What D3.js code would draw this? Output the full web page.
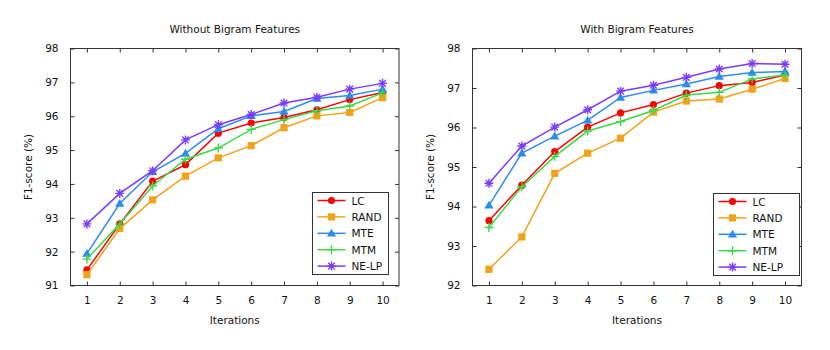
<!DOCTYPE html>
<html><head><meta charset="utf-8">
<script src="https://cdn.jsdelivr.net/npm/d3@7"></script>
<style>body{margin:0;background:#fff}svg{display:block}</style>
</head><body>
<svg id="c" width="830" height="350"></svg>
<script>
const iterations = [1,2,3,4,5,6,7,8,9,10];
const seriesNames = ["LC","RAND","MTE","MTM","NE-LP"];
const seriesColors = ["#ff0000","#f0a31a","#2b8cf0","#3cd84a","#7a3cf8"];
const seriesMarkers = ["circle","square","triangle","plus","star"];

// Without Bigram Features
const noBigramLC   = [91.46,92.82,94.08,94.57,95.50,95.80,95.96,96.19,96.49,96.70];
const noBigramRAND = [91.32,92.68,93.53,94.23,94.77,95.13,95.66,96.01,96.11,96.55];
const noBigramMTE  = [91.94,93.42,94.36,94.90,95.63,96.01,96.14,96.52,96.61,96.80];
const noBigramMTM  = [91.78,92.82,93.94,94.73,95.06,95.61,95.90,96.16,96.30,96.69];
const noBigramNELP = [92.82,93.72,94.39,95.30,95.75,96.05,96.39,96.56,96.80,96.97];

// With Bigram Features
const bigramLC   = [93.64,94.54,95.39,96.01,96.37,96.58,96.87,97.06,97.14,97.33];
const bigramRAND = [92.41,93.23,94.84,95.35,95.73,96.39,96.67,96.72,96.97,97.24];
const bigramMTE  = [94.03,95.35,95.78,96.18,96.76,96.94,97.10,97.29,97.39,97.42];
const bigramMTM  = [93.47,94.50,95.27,95.91,96.15,96.43,96.82,96.89,97.23,97.33];
const bigramNELP = [94.59,95.53,96.01,96.45,96.92,97.07,97.27,97.48,97.62,97.60];

const leftTicks = [91,92,93,94,95,96,97,98];
const rightTicks = [92,93,94,95,96,97,98];

const svg = d3.select("#c");
const FONT = "DejaVu Sans, Verdana, sans-serif";

function marker(g, type, color, x, y) {
  if (type === "circle") {
    g.append("circle").attr("cx", x).attr("cy", y).attr("r", 3.6).attr("fill", color);
  } else if (type === "square") {
    g.append("rect").attr("x", x-3.6).attr("y", y-3.6).attr("width", 7.2).attr("height", 7.2).attr("fill", color);
  } else if (type === "triangle") {
    g.append("path").attr("d", `M${x},${y-4.6}L${x+4.6},${y+3.2}L${x-4.6},${y+3.2}Z`).attr("fill", color);
  } else if (type === "plus") {
    g.append("path").attr("d", `M${x-4.5},${y}H${x+4.5}M${x},${y-4.5}V${y+4.5}`).attr("stroke", color).attr("stroke-width", 1.4);
  } else if (type === "star") {
    g.append("path").attr("d", `M${x-4.5},${y}H${x+4.5}M${x},${y-4.5}V${y+4.5}M${x-3.3},${y-3.3}L${x+3.3},${y+3.3}M${x-3.3},${y+3.3}L${x+3.3},${y-3.3}`).attr("stroke", color).attr("stroke-width", 1.4);
  }
}

function panel(opts) {
  const {x0, x1, y0, y1, domain, ticks, data, title, legend} = opts;
  const g = svg.append("g");
  const x = d3.scaleLinear().domain([0.5, 10.5]).range([x0, x1]);
  const y = d3.scaleLinear().domain(domain).range([y1, y0]);

  // ticks inward on all sides
  const tl = 4;
  const ax = [
    {axis: d3.axisBottom(x).tickValues(iterations).tickSize(-tl).tickFormat(d3.format("d")).tickPadding(11), tr: `translate(0,${y1})`, labels: true},
    {axis: d3.axisTop(x).tickValues(iterations).tickSize(-tl).tickFormat(""), tr: `translate(0,${y0})`},
    {axis: d3.axisLeft(y).tickValues(ticks).tickSize(-tl).tickFormat(d3.format("d")).tickPadding(12), tr: `translate(${x0},0)`, labels: true},
    {axis: d3.axisRight(y).tickValues(ticks).tickSize(-tl).tickFormat(""), tr: `translate(${x1},0)`}
  ];
  ax.forEach(a => {
    const ga = g.append("g").attr("transform", a.tr).call(a.axis);
    ga.select(".domain").remove();
    ga.selectAll("line").attr("stroke", "#333").attr("stroke-width", 1);
    ga.selectAll("text").attr("font-family", FONT).attr("font-size", 10.5).attr("fill", "#111");
  });
  g.append("rect").attr("x", x0).attr("y", y0).attr("width", x1-x0).attr("height", y1-y0)
    .attr("fill", "none").attr("stroke", "#333").attr("stroke-width", 1);

  const line = d3.line().x((d,i) => x(iterations[i])).y(d => y(d));
  data.forEach((vals, si) => {
    g.append("path").datum(vals).attr("d", line).attr("fill", "none")
      .attr("stroke", seriesColors[si]).attr("stroke-width", 1.5);
    vals.forEach((v, i) => marker(g, seriesMarkers[si], seriesColors[si], x(iterations[i]), y(v)));
  });

  g.append("text").attr("x", (x0+x1)/2).attr("y", 33).attr("text-anchor", "middle")
    .attr("font-family", FONT).attr("font-size", 10.5).attr("fill", "#111").text(title);
  g.append("text").attr("x", (x0+x1)/2).attr("y", 324).attr("text-anchor", "middle")
    .attr("font-family", FONT).attr("font-size", 10.5).attr("fill", "#111").text("Iterations");
  g.append("text").attr("transform", `translate(${x0-39},${(y0+y1)/2}) rotate(-90)`).attr("text-anchor", "middle")
    .attr("font-family", FONT).attr("font-size", 10.5).attr("fill", "#111").text("F1-score (%)");

  // legend
  const lg = g.append("g");
  lg.append("rect").attr("x", legend.x).attr("y", legend.y).attr("width", legend.w).attr("height", legend.h)
    .attr("fill", "#fff").attr("stroke", "#333").attr("stroke-width", 1);
  seriesNames.forEach((n, i) => {
    const cy = legend.y + 8 + i*16.4;
    const lx0 = legend.x + 5, lx1 = legend.x + 33;
    lg.append("line").attr("x1", lx0).attr("x2", lx1).attr("y1", cy).attr("y2", cy)
      .attr("stroke", seriesColors[i]).attr("stroke-width", 1.5);
    marker(lg, seriesMarkers[i], seriesColors[i], (lx0+lx1)/2, cy);
    lg.append("text").attr("x", legend.x + 39).attr("y", cy + 4).attr("font-family", FONT)
      .attr("font-size", 10.5).attr("fill", "#111").text(n);
  });
}

panel({x0: 70.5, x1: 399, y0: 48.5, y1: 285.5, domain: [91, 98], ticks: leftTicks,
  data: [noBigramLC, noBigramRAND, noBigramMTE, noBigramMTM, noBigramNELP],
  title: "Without Bigram Features", legend: {x: 312.5, y: 192.5, w: 76, h: 82}});
panel({x0: 472.5, x1: 801.5, y0: 48.5, y1: 285.5, domain: [92, 98], ticks: rightTicks,
  data: [bigramLC, bigramRAND, bigramMTE, bigramMTM, bigramNELP],
  title: "With Bigram Features", legend: {x: 713.5, y: 193.5, w: 86, h: 82}});
</script>
</body></html>
